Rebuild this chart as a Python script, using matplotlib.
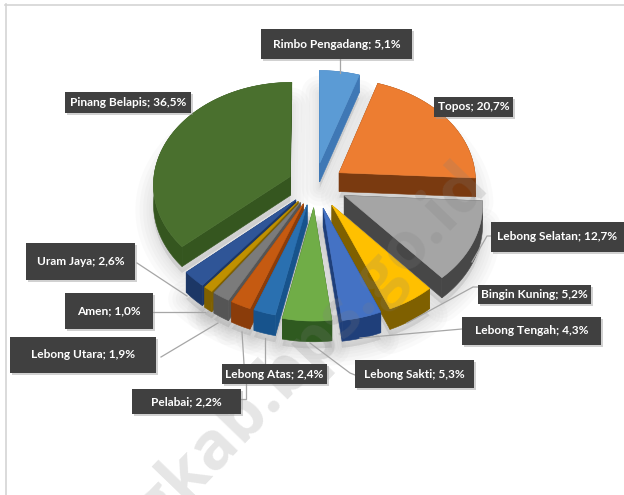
import numpy as np
import matplotlib
matplotlib.use("Agg")
import matplotlib.pyplot as plt
from matplotlib.patches import Polygon, Rectangle

plt.rcParams['font.family'] = ['Lato', 'DejaVu Sans']

# Data
kecamatan = ['Rimbo Pengadang', 'Topos', 'Lebong Selatan', 'Bingin Kuning', 'Lebong Tengah',
             'Lebong Sakti', 'Lebong Atas', 'Pelabai', 'Lebong Utara', 'Amen', 'Uram Jaya',
             'Pinang Belapis']
persen = [5.1, 20.7, 12.7, 5.2, 4.3, 5.3, 2.4, 2.2, 1.9, 1.0, 2.6, 36.5]

warna_atas = ['#5b9bd5', '#ed7d31', '#a5a5a5', '#ffc000', '#4472c4', '#70ad47',
              '#2a70b0', '#c55a11', '#7b7b7b', '#bf9000', '#2f5597', '#4a702e']
warna_sisi = ['#3f78b5', '#7a3a10', '#474747', '#7f6000', '#1f3f7a', '#2f5a20',
              '#17538c', '#8a3c0a', '#555555', '#7f6000', '#1c3766', '#35561f']
ledakan = [0.22, 0.215, 0.235, 0.23, 0.23, 0.22, 0.2, 0.2, 0.2, 0.2, 0.2, 0.2]

# Label boxes: left, top, right, bottom in pixels
kotak = [(261, 29, 412, 59), (434, 97, 513, 117), (491, 222, 624, 252), (478, 285, 591, 304),
         (462, 317, 601, 345), (355, 360, 474, 388), (222, 364, 327, 384), (132, 389, 241, 414),
         (10, 337, 156, 373), (65, 293, 153, 329), (26, 243, 135, 280), (65, 92, 191, 113)]

garis = [[(340, 59), (340, 73)],
         [(491, 236), (487, 236), (472, 262)],
         [(478, 287), (473, 287), (407, 323)],
         [(462, 329), (360, 338)],
         [(355, 375), (350, 373), (310, 343)],
         [(265, 364), (265, 338)],
         [(241, 399), (246, 399), (246, 384)],
         [(244, 364), (242, 332)],
         [(161, 357), (218, 323)],
         [(153, 312), (205, 312)],
         [(137, 263), (187, 296)]]

# Pie geometry
CX, CY = 315, 185
RX, RY = 137, 102
PERSPEKTIF = 0.07
TEBAL = 19


def proyeksi(u, v, z=0.0):
    k = 1.0 / (1.0 + PERSPEKTIF * v)
    return CX + RX * u * k, CY - RY * v * k + z * k


def geometri_irisan(t0, t1, e):
    tengah = (t0 + t1) / 2
    ou, ov = e * np.sin(tengah), e * np.cos(tengah)
    sudut = np.linspace(t0, t1, max(int(np.degrees(t1 - t0)), 4))
    return ou, ov, ou + np.sin(sudut), ov + np.cos(sudut)


fig = plt.figure(figsize=(6.24, 4.95), dpi=100)
ax = fig.add_axes([0, 0, 1, 1])
ax.set_xlim(0, 624)
ax.set_ylim(495, 0)
ax.axis('off')

# Frame lines
ax.plot([5.5, 5.5], [4, 495], color='#d4d4d4', lw=1.2, zorder=1)
ax.plot([5, 624], [4.5, 4.5], color='#d4d4d4', lw=1.2, zorder=1)

batas = np.radians(np.concatenate(([0], np.cumsum(persen)))) * 360 / sum(persen)
irisan = []
for i in range(len(persen)):
    irisan.append((i,) + geometri_irisan(batas[i], batas[i + 1], ledakan[i]))

# Soft shadow under the slices
for i, ou, ov, au, av in irisan:
    xs, ys = proyeksi(np.r_[ou, au], np.r_[ov, av], TEBAL + 6)
    for lw in [26, 20, 15, 10, 6, 3]:
        ax.add_patch(Polygon(np.c_[xs, ys], closed=True, facecolor='#808080', edgecolor='#808080',
                             lw=lw, alpha=0.035, joinstyle='round', zorder=2))

# Back slices first so the front ones overlap them
urutan = sorted(irisan, key=lambda s: np.cos((batas[s[0]] + batas[s[0] + 1]) / 2), reverse=True)
for n, (i, ou, ov, au, av) in enumerate(urutan):
    z = 3 + n * 0.1
    # radial walls
    for eu, ev in [(au[0], av[0]), (au[-1], av[-1])]:
        x0, y0 = proyeksi(ou, ov)
        x1, y1 = proyeksi(eu, ev)
        x2, y2 = proyeksi(eu, ev, TEBAL)
        x3, y3 = proyeksi(ou, ov, TEBAL)
        ax.add_patch(Polygon([(x0, y0), (x1, y1), (x2, y2), (x3, y3)], facecolor=warna_sisi[i],
                             edgecolor=warna_sisi[i], lw=0.4, zorder=z))
    # outer wall
    xa, ya = proyeksi(au, av)
    xb, yb = proyeksi(au, av, TEBAL)
    ax.add_patch(Polygon(np.c_[np.r_[xa, xb[::-1]], np.r_[ya, yb[::-1]]], facecolor=warna_sisi[i],
                         edgecolor=warna_sisi[i], lw=0.4, zorder=z))
    # top face
    xt, yt = proyeksi(np.r_[ou, au], np.r_[ov, av])
    ax.add_patch(Polygon(np.c_[xt, yt], facecolor=warna_atas[i], edgecolor=warna_atas[i],
                         lw=0.4, zorder=z + 0.05))

# Site watermark across the chart, under the labels
ax.text(490, 185, 'lebongkab.bps.go.id', fontsize=48, fontweight='bold', color='#808080', alpha=0.2,
        rotation=46, rotation_mode='anchor', ha='right', va='baseline',
        family=['Open Sans', 'DejaVu Sans'], zorder=5)

# Leader lines
for g in garis:
    g = np.array(g)
    ax.plot(g[:, 0], g[:, 1], color='#a6a6a6', lw=0.9, zorder=6)

# Data labels
for nama, nilai, (x0, y0, x1, y1) in zip(kecamatan, persen, kotak):
    ax.add_patch(Rectangle((x0 + 2, y0 + 2), x1 - x0, y1 - y0, facecolor='#9a9a9a', alpha=0.45,
                           edgecolor='none', zorder=7))
    ax.add_patch(Rectangle((x0, y0), x1 - x0, y1 - y0, facecolor='#404040', edgecolor='none', zorder=8))
    teks = f"{nama}; {nilai:.1f}%".replace('.', ',')
    ax.text((x0 + x1) / 2, (y0 + y1) / 2, teks, color='white', fontsize=8.6, fontweight='bold',
            ha='center', va='center', zorder=9)

fig.savefig('out.png', dpi=100)
